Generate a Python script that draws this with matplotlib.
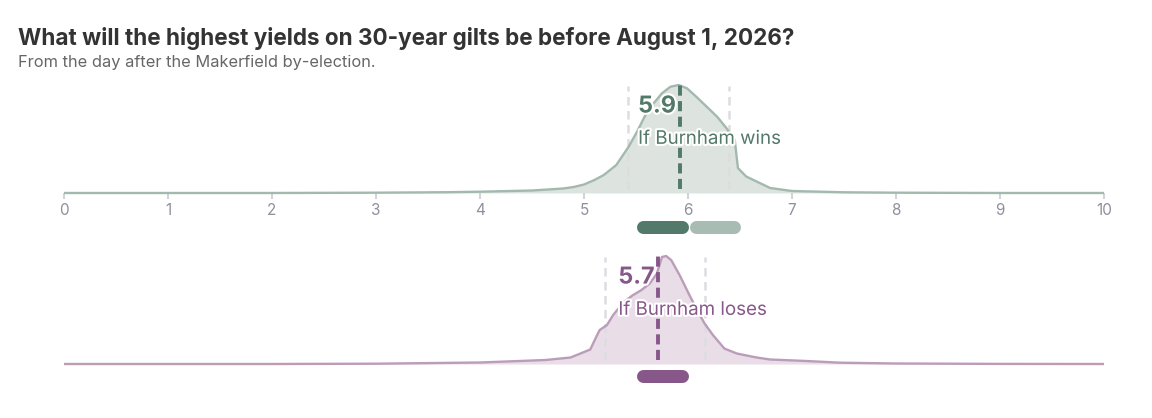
import matplotlib.pyplot as plt
import matplotlib.patheffects as pe

plt.rcParams['font.family'] = ['Inter', 'DejaVu Sans']

title = "What will the highest yields on 30-year gilts be before August 1, 2026?"
subtitle = "From the day after the Makerfield by-election."

# density (arbitrary units, peak ~108)
wins_x = [0, 1, 2, 3, 3.7, 4.0, 4.5, 4.8, 4.9, 5.0, 5.1, 5.19, 5.31, 5.43, 5.51, 5.59,
          5.67, 5.75, 5.83, 5.91, 5.99, 6.08, 6.18, 6.28, 6.37, 6.45, 6.48, 6.56,
          6.69, 6.79, 7.0, 7.5, 8, 9, 10]
wins_y = [0, 0, 0, 0.3, 0.8, 1.3, 2.5, 4.5, 6, 8.5, 13, 18, 28, 46.5, 61.5, 78,
          90, 100, 106.5, 108.3, 105, 96.5, 86.5, 76.5, 65, 53, 25, 16.5,
          10, 5, 2, 0.7, 0.3, 0, 0]

loses_x = [0, 1, 2, 3, 4.0, 4.63, 4.87, 5.06, 5.11, 5.15, 5.22, 5.28, 5.38, 5.47,
           5.55, 5.63, 5.70, 5.75, 5.79, 5.84, 5.92, 6.00, 6.08, 6.16, 6.24, 6.35,
           6.47, 6.66, 6.79, 7.14, 7.46, 8, 9, 10]
loses_y = [0, 0, 0, 0.3, 1.5, 4, 6.5, 14.5, 25.5, 34, 39, 49, 62, 69,
           74, 80.5, 90.5, 107.3, 108.3, 104, 89, 72, 55.5, 40.5, 29, 15.5,
           10.5, 6.5, 4.5, 3, 1.3, 0.5, 0.1, 0]

wins_quant = [5.42, 5.92, 6.39]
loses_quant = [5.2, 5.71, 6.16]
wins_label = "5.9"
loses_label = "5.7"
wins_name = "If Burnham wins"
loses_name = "If Burnham loses"
wins_pills = [(5.5, 6.0), (6.01, 6.5)]
loses_pills = [(5.5, 6.0)]
ticks = list(range(0, 11))

GREEN_LINE = '#a3b9ae'
GREEN_FILL = '#dde4e0'
GREEN_DARK = '#52796a'
GREEN_LIGHT = '#a8bcb3'
PURPLE_LINE = '#bb9dba'
PURPLE_FILL = '#e9dde7'
PURPLE_DARK = '#87578a'
GREY_DASH = '#dcdce2'

W, H = 1152, 418
fig = plt.figure(figsize=(W / 100, H / 100), dpi=100)

x0, x1 = 64, 1104
px_per_unit = (x1 - x0) / 10
peak_px = 108


def make_ax(top_px, base_px, bottom_px):
    ax = fig.add_axes([x0 / W, 1 - bottom_px / H, (x1 - x0) / W, (bottom_px - top_px) / H])
    ax.set_xlim(0, 10)
    ax.set_ylim(-(bottom_px - base_px) / peak_px, (base_px - top_px) / peak_px)
    for s in ax.spines.values():
        s.set_visible(False)
    ax.patch.set_alpha(0)
    return ax


def draw_panel(ax, xs, ys, quant, line_c, fill_c, dark_c, label, name, tx, pills, pill_cols, pill_y):
    mx = max(ys)
    yn = [v / mx for v in ys]
    ax.fill_between(xs, 0, yn, color=fill_c, lw=0, zorder=1)
    ax.plot(xs, yn, color=line_c, lw=1.7, zorder=3, solid_joinstyle='round')
    for i, q in enumerate(quant):
        if i == 1:
            ax.plot([q, q], [0.04, 1.0], color=dark_c, lw=2.8, ls=(0, (2.6, 1.4)), zorder=5)
        else:
            ax.plot([q, q], [0.04, 0.99], color=GREY_DASH, lw=1.8, ls=(0, (3.4, 2.2)), zorder=2)
    halo = [pe.withStroke(linewidth=3, foreground='white')]
    ax.text(tx, 0.745, label, fontsize=16.8, fontweight='bold', color=dark_c,
            va='baseline', ha='left', zorder=6, path_effects=halo)
    ax.text(tx, 0.455, name, fontsize=13.5, color=dark_c, va='baseline', ha='left',
            zorder=6, path_effects=halo)
    inset = 6.5 / px_per_unit
    for (a, b), c in zip(pills, pill_cols):
        ax.plot([a + inset, b - inset], [pill_y, pill_y], color=c, lw=13 * 0.72,
                solid_capstyle='round', zorder=4)


ax1 = make_ax(78, 193, 240)
ax1.spines['bottom'].set_position(('data', 0))
ax1.set_xticks(ticks)
ax1.set_xticklabels([str(t) for t in ticks])
ax1.set_yticks([])
ax1.tick_params(axis='x', direction='out', length=4.5, width=1.5, color='#d3d3da',
                labelcolor='#8f909e', labelsize=11, pad=3)
draw_panel(ax1, wins_x, wins_y, wins_quant, GREEN_LINE, GREEN_FILL, GREEN_DARK,
           wins_label, wins_name, 5.52, wins_pills, [GREEN_DARK, GREEN_LIGHT],
           -(226.5 - 193) / peak_px)

ax2 = make_ax(245, 364, 395)
ax2.set_xticks([])
ax2.set_yticks([])
draw_panel(ax2, loses_x, loses_y, loses_quant, PURPLE_LINE, PURPLE_FILL, PURPLE_DARK,
           loses_label, loses_name, 5.33, loses_pills, [PURPLE_DARK],
           -(375.5 - 364) / peak_px)

fig.text(18 / W, 1 - 45 / H, title, fontsize=16.2, fontweight='bold', color='#333333',
         ha='left', va='baseline')
fig.text(18 / W, 1 - 67 / H, subtitle, fontsize=11.8, color='#666666',
         ha='left', va='baseline')

fig.savefig('out.png', dpi=100)
